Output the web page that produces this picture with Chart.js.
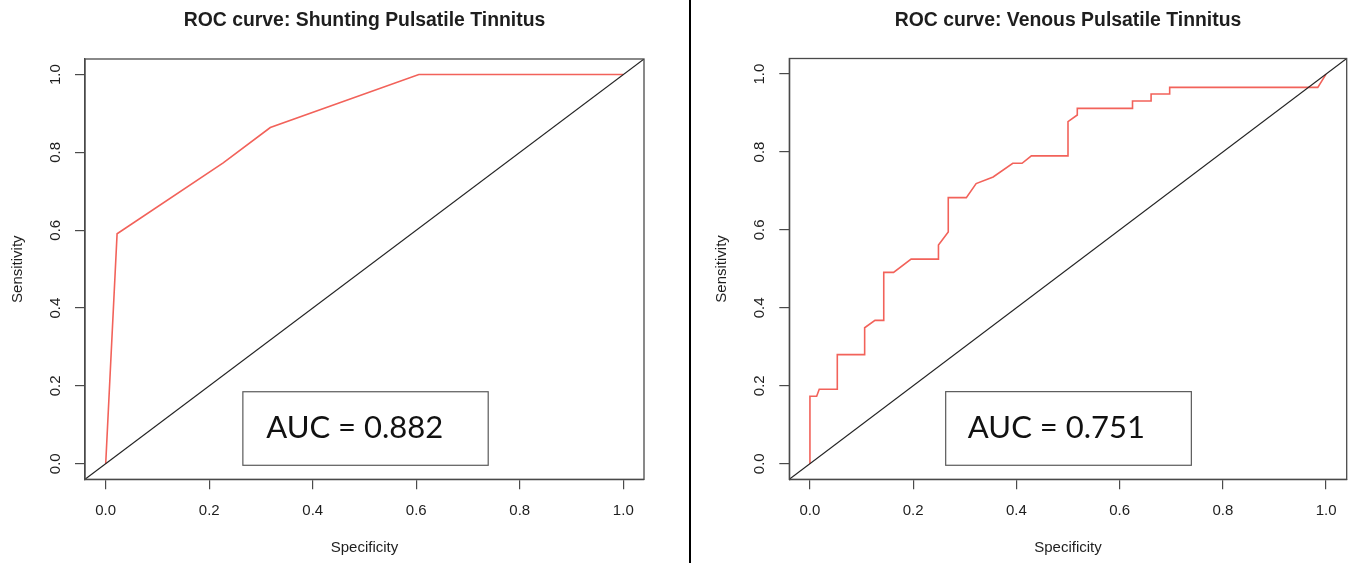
<!DOCTYPE html>
<html><head><meta charset="utf-8">
<script src="https://cdn.jsdelivr.net/npm/chart.js@4.4.1/dist/chart.umd.min.js"></script>
<style>
html,body{margin:0;padding:0;background:#fff;width:1355px;height:563px;overflow:hidden;}
#c1{position:absolute;left:0;top:0;}
#c2{position:absolute;left:691px;top:0;}
#divider{position:absolute;left:689px;top:0;width:2px;height:563px;background:#000;}
</style></head><body>
<canvas id="c1" width="689" height="563"></canvas>
<div id="divider"></div>
<canvas id="c2" width="664" height="563"></canvas>
<script>
// ---- data ----
const tickValues = [0, 0.2, 0.4, 0.6, 0.8, 1.0];
const tickLabels = ['0.0', '0.2', '0.4', '0.6', '0.8', '1.0'];
const axisMin = -0.04, axisMax = 1.04;

const shuntSpec = [0, 0.022, 0.227, 0.318, 0.605, 1.0];
const shuntSens = [0, 0.591, 0.773, 0.864, 1.0, 1.0];

const venSpec = [0, 0, 0.013, 0.018, 0.053, 0.053, 0.106, 0.106, 0.126, 0.143, 0.143, 0.162, 0.196, 0.249, 0.249, 0.268, 0.268, 0.303, 0.322, 0.355, 0.393, 0.411, 0.429, 0.500, 0.500, 0.518, 0.518, 0.625, 0.625, 0.661, 0.661, 0.697, 0.697, 0.984, 1.0];
const venSens = [0, 0.173, 0.173, 0.191, 0.191, 0.280, 0.280, 0.349, 0.368, 0.368, 0.491, 0.491, 0.525, 0.525, 0.561, 0.595, 0.683, 0.683, 0.719, 0.736, 0.771, 0.771, 0.790, 0.790, 0.878, 0.895, 0.912, 0.912, 0.931, 0.931, 0.949, 0.949, 0.966, 0.966, 1.0];

const chartTitles = ['ROC curve: Shunting Pulsatile Tinnitus', 'ROC curve: Venous Pulsatile Tinnitus'];
const aucLabels = ['AUC = 0.882', 'AUC = 0.751'];
const xTitle = 'Specificity';
const yTitle = 'Sensitivity';

// ---- styling ----
const FONT = "'Liberation Sans', Arial, sans-serif";
const TEXT = '#1e1e1e';
const RED = '#f2625a';

const decor = {
  id: 'decor',
  afterDraw(chart, args, o) {
    const {ctx, chartArea: ca} = chart;
    const xs = chart.scales.x, ys = chart.scales.y;
    ctx.save();
    ctx.strokeStyle = '#4a4a4a';
    ctx.lineWidth = 1.3;
    ctx.strokeRect(ca.left, ca.top, ca.right - ca.left, ca.bottom - ca.top);
    ctx.fillStyle = TEXT;
    ctx.font = '15px ' + FONT;
    ctx.textAlign = 'center';
    ctx.textBaseline = 'middle';
    tickValues.forEach((v, i) => {
      const py = ys.getPixelForValue(v);
      ctx.save();
      ctx.translate(ca.left - 29, py);
      ctx.rotate(-Math.PI / 2);
      ctx.fillText(tickLabels[i], 0, 0);
      ctx.restore();
    });
    ctx.font = 'bold 19.4px ' + FONT;
    ctx.textBaseline = 'alphabetic';
    ctx.fillText(o.title, (ca.left + ca.right) / 2, 26);
    const bx0 = xs.getPixelForValue(o.box[0]), bx1 = xs.getPixelForValue(o.box[1]);
    const by0 = ys.getPixelForValue(o.box[2]), by1 = ys.getPixelForValue(o.box[3]);
    ctx.strokeStyle = '#5a5a5a';
    ctx.lineWidth = 1.2;
    ctx.strokeRect(bx0, by1, bx1 - bx0, by0 - by1);
    ctx.font = "31px Lato, 'Open Sans', sans-serif";
    ctx.textAlign = 'left';
    ctx.fillStyle = '#111';
    ctx.fillText(o.auc, xs.getPixelForValue(o.textPos[0]), ys.getPixelForValue(o.textPos[1]));
    ctx.restore();
  }
};

function makeChart(id, spec, sens, title, auc, pad, box, textPos) {
  const pts = spec.map((x, i) => ({x: x, y: sens[i]}));
  const diag = [{x: axisMin, y: axisMin}, {x: axisMax, y: axisMax}];
  const ticksFrom = s => { s.ticks = tickValues.map(v => ({value: v})); };
  return new Chart(document.getElementById(id), {
    type: 'scatter',
    data: {
      datasets: [
        {data: diag, showLine: true, borderColor: '#222', borderWidth: 1.1, pointRadius: 0, tension: 0},
        {data: pts, showLine: true, borderColor: RED, borderWidth: 1.6, pointRadius: 0, tension: 0}
      ]
    },
    options: {
      responsive: false,
      animation: false,
      devicePixelRatio: 1,
      layout: {padding: pad},
      plugins: {
        legend: {display: false},
        tooltip: {enabled: false},
        decor: {title: title, auc: auc, box: box, textPos: textPos}
      },
      scales: {
        x: {
          type: 'linear', position: 'bottom', min: axisMin, max: axisMax,
          afterBuildTicks: ticksFrom,
          afterFit: s => { s.height = 83.7; },
          grid: {display: true, drawOnChartArea: false, drawTicks: true, tickLength: 10, color: '#4a4a4a', lineWidth: 1.2},
          border: {display: true, color: '#4a4a4a', width: 1.3},
          ticks: {autoSkip: false, maxRotation: 0, padding: 13, color: TEXT, font: {size: 15, family: FONT},
                  callback: (v, i) => tickLabels[i]},
          title: {display: true, text: xTitle, color: TEXT, font: {size: 15, family: FONT}, padding: {top: 0, bottom: 6}}
        },
        y: {
          type: 'linear', position: 'left', min: axisMin, max: axisMax,
          afterBuildTicks: ticksFrom,
          afterFit: s => { s.width = 85; },
          grid: {display: true, drawOnChartArea: false, drawTicks: true, tickLength: 10, color: '#4a4a4a', lineWidth: 1.2},
          border: {display: true, color: '#4a4a4a', width: 1.3},
          ticks: {display: false},
          title: {display: true, text: yTitle, color: TEXT, font: {size: 15, family: FONT}, padding: {top: 9, bottom: 0}}
        }
      }
    },
    plugins: [decor]
  });
}

makeChart('c1', shuntSpec, shuntSens, chartTitles[0], aucLabels[0],
  {left: 0, right: 45, top: 59, bottom: 0}, [0.265, 0.739, -0.004, 0.185], [0.310, 0.0667]);
makeChart('c2', venSpec, venSens, chartTitles[1], aucLabels[1],
  {left: 13.3, right: 8.3, top: 58.5, bottom: 0}, [0.263, 0.739, -0.004, 0.185], [0.306, 0.0667]);
</script>
</body></html>
